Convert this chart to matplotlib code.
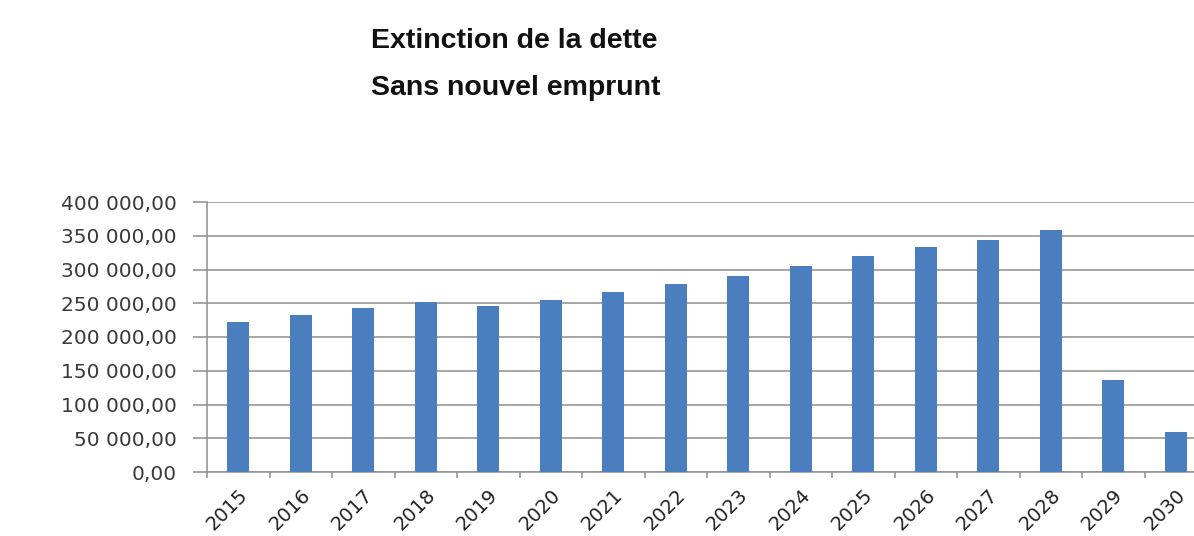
import matplotlib
matplotlib.use("Agg")
import matplotlib.pyplot as plt
from matplotlib.ticker import FixedLocator, FuncFormatter
import numpy as np

# ---------------------------------------------------------------
# Data
# ---------------------------------------------------------------
YEARS = [str(y) for y in range(2015, 2031)]
DEBT = [
    221500, 232500, 242500, 252000, 245500, 254500, 266000, 279000,
    291000, 305000, 320000, 333500, 344000, 359000, 136000, 60000,
]
Y_TICKS = [0, 50000, 100000, 150000, 200000, 250000, 300000, 350000, 400000]

TITLE_1 = "Extinction de la dette"
TITLE_2 = "Sans nouvel emprunt"

# ---------------------------------------------------------------
# Style
# ---------------------------------------------------------------
BAR_COLOUR = "#4A7EBF"
GRID_COLOUR = "#8E8E8E"
TEXT_COLOUR = "#3A3A3A"
W, H, DPI = 1194, 536, 100


def fr_number(v, pos=None):
    s = f"{v:,.2f}"
    return s.replace(",", " ").replace(".", ",")


fig = plt.figure(figsize=(W / DPI, H / DPI), dpi=DPI)
fig.patch.set_facecolor("white")

ax = fig.add_axes([207 / W, 1 - 472 / H, 1000 / W, 270 / H])

x = np.arange(len(YEARS))
ax.bar(x, DEBT, width=0.35, color=BAR_COLOUR, zorder=3)

ax.set_xlim(-0.5, len(YEARS) - 0.5)
ax.set_ylim(0, 400000)

# y axis
ax.yaxis.set_major_locator(FixedLocator(Y_TICKS))
ax.yaxis.set_major_formatter(FuncFormatter(fr_number))
ax.grid(axis="y", color=GRID_COLOUR, linewidth=1.1, zorder=0)
ax.tick_params(axis="y", direction="out", length=10, width=1.1,
               color=GRID_COLOUR, labelsize=14.5, labelcolor=TEXT_COLOUR, pad=12)

# x axis: labels at centres, small ticks at category boundaries
ax.set_xticks(x)
ax.set_xticklabels(YEARS, rotation=45, ha="right", rotation_mode="anchor")
ax.set_xticks(np.arange(-0.5, len(YEARS), 1.0), minor=True)
ax.tick_params(axis="x", which="major", length=0, labelsize=14,
               labelcolor="#222222", pad=10)
ax.tick_params(axis="x", which="minor", direction="out", length=4,
               width=1.1, color=GRID_COLOUR)

for side in ("top", "right"):
    ax.spines[side].set_visible(False)
for side in ("left", "bottom"):
    ax.spines[side].set_color(GRID_COLOUR)
    ax.spines[side].set_linewidth(1.1)

# ---------------------------------------------------------------
# Titles
# ---------------------------------------------------------------
fig.text(371 / W, 1 - 48 / H, TITLE_1, ha="left", va="baseline",
         family="Liberation Sans", fontweight="bold", fontsize=20.5, color="#111111")
fig.text(371 / W, 1 - 95 / H, TITLE_2, ha="left", va="baseline",
         family="Liberation Sans", fontweight="bold", fontsize=20.5, color="#111111")

fig.savefig("out.png", dpi=DPI, facecolor=fig.get_facecolor())
